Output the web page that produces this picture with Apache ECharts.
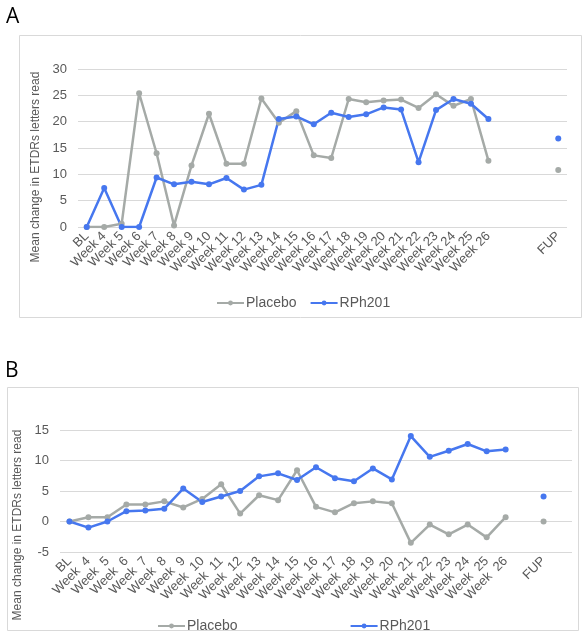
<!DOCTYPE html>
<html><head><meta charset="utf-8">
<script src="https://cdn.jsdelivr.net/npm/echarts@6/dist/echarts.min.js"></script>
<style>html,body{margin:0;padding:0;background:#fff}#c{width:582px;height:635px}</style>
</head><body><div id="c"></div>
<script>
// Time points (last entry of each series is the follow-up visit, FUP)
const weeksA = ["BL","Week 4","Week 5","Week 6","Week 7","Week 8","Week 9","Week 10","Week 11","Week 12","Week 13","Week 14","Week 15","Week 16","Week 17","Week 18","Week 19","Week 20","Week 21","Week 22","Week 23","Week 24","Week 25","Week 26"];
const weeksB = ["BL","Week  4","Week  5","Week  6","Week  7","Week  8","Week  9","Week  10","Week  11","Week  12","Week  13","Week  14","Week  15","Week  16","Week  17","Week  18","Week  19","Week  20","Week  21","Week  22","Week  23","Week  24","Week  25","Week  26"];
const followUp = "FUP";
const seriesNames = ["Placebo", "RPh201"];

// Panel A
const placeboA = [0, 0, 0.6, 25.4, 14.0, 0.3, 11.7, 21.5, 12.0, 12.0, 24.4, 19.8, 22.0, 13.6, 13.1, 24.3, 23.7, 24.0, 24.2, 22.6, 25.2, 23.0, 24.3, 12.6, 10.8];
const rph201A  = [0, 7.4, 0, 0, 9.4, 8.1, 8.6, 8.1, 9.3, 7.1, 8.0, 20.5, 21.0, 19.5, 21.7, 20.9, 21.4, 22.7, 22.3, 12.3, 22.2, 24.3, 23.4, 20.5, 16.8];
const yTicksA = [0, 5, 10, 15, 20, 25, 30];

// Panel B
const placeboB = [0, 0.7, 0.7, 2.8, 2.8, 3.3, 2.3, 3.7, 6.1, 1.3, 4.3, 3.5, 8.4, 2.4, 1.5, 3.0, 3.3, 3.0, -3.5, -0.5, -2.1, -0.5, -2.6, 0.7, 0];
const rph201B  = [0, -1.0, 0, 1.7, 1.8, 2.1, 5.4, 3.2, 4.1, 5.0, 7.4, 7.9, 6.8, 8.9, 7.1, 6.6, 8.7, 6.9, 14.0, 10.6, 11.6, 12.7, 11.5, 11.8, 4.1];
const yTicksB = [-5, 0, 5, 10, 15];

// build category axes with empty slots before/after FUP
const catsA = weeksA.concat([" ", "  ", "   ", followUp]);
const catsB = weeksB.concat([" ", followUp, "  "]);
function buildA(v){ return v.slice(0, 24).concat([null, null, null, v[24]]); }
function buildB(v){ return v.slice(0, 24).concat([null, v[24], null]); }

const GRAY = '#a5aaa7', BLUE = '#4677ef', TXT = '#595959', GRID = '#d9d9d9';
const FONT = 'Liberation Sans';

function xAxis(idx, cats){
  return {
    type: 'category', gridIndex: idx, data: cats, boundaryGap: true,
    axisLine: {show: false}, axisTick: {show: false},
    axisLabel: {interval: 0, rotate: 45, color: TXT, fontSize: 13, fontFamily: FONT, margin: 7}
  };
}
function yAxis(idx, ticks, pad, gap){
  return {
    type: 'value', gridIndex: idx, min: ticks[0], max: ticks[ticks.length-1], interval: ticks[1]-ticks[0],
    axisLine: {show: false}, axisTick: {show: false},
    splitLine: {lineStyle: {color: GRID, width: 1}},
    axisLabel: {color: TXT, fontSize: 13, fontFamily: FONT, margin: 11},
    name: 'Mean change in ETDRs letters read', nameLocation: 'middle', nameGap: gap, nameRotate: 90,
    nameTextStyle: {color: TXT, fontSize: 12, fontFamily: FONT, padding: [0, pad, 0, 0]}
  };
}
function line(name, idx, data, color){
  return {
    name: name, type: 'line', xAxisIndex: idx, yAxisIndex: idx, data: data,
    connectNulls: false, symbol: 'circle', symbolSize: 6, showSymbol: true,
    lineStyle: {color: color, width: 2.5}, itemStyle: {color: color}
  };
}
function legend(left, top, gap){
  return {data: seriesNames, left: left, top: top, itemWidth: 27, itemHeight: 6, itemGap: gap,
    textStyle: {color: TXT, fontSize: 14, fontFamily: FONT, padding: [0, 0, 0, -3]}};
}

const chart = echarts.init(document.getElementById('c'), null, {renderer: 'canvas'});
chart.setOption({
  animation: false,
  backgroundColor: '#fff',
  title: [
    {text: 'A', left: 1, top: 2, textStyle: {fontSize: 21, fontWeight: 'normal', color: '#000', fontFamily: 'Open Sans'}},
    {text: 'B', left: 0, top: 356, textStyle: {fontSize: 21, fontWeight: 'normal', color: '#000', fontFamily: 'Open Sans'}}
  ],
  graphic: [
    {type: 'rect', shape: {x: 19.5, y: 35.5, width: 562, height: 282}, style: {fill: 'none', stroke: GRID, lineWidth: 1}, silent: true},
    {type: 'rect', shape: {x: 7.5, y: 387.5, width: 571, height: 243}, style: {fill: 'none', stroke: GRID, lineWidth: 1}, silent: true}
  ],
  legend: [legend(211, 291, 13), legend(152, 614, 112)],
  grid: [
    {left: 78, right: 15, top: 69, height: 158},
    {left: 60, right: 10, top: 430, height: 122}
  ],
  xAxis: [xAxis(0, catsA), xAxis(1, catsB)],
  yAxis: [yAxis(0, yTicksA, 38, 30), yAxis(1, yTicksB, 68, 31)],
  series: [
    line(seriesNames[0], 0, buildA(placeboA), GRAY),
    line(seriesNames[1], 0, buildA(rph201A), BLUE),
    line(seriesNames[0], 1, buildB(placeboB), GRAY),
    line(seriesNames[1], 1, buildB(rph201B), BLUE)
  ]
});
</script>
</body></html>
